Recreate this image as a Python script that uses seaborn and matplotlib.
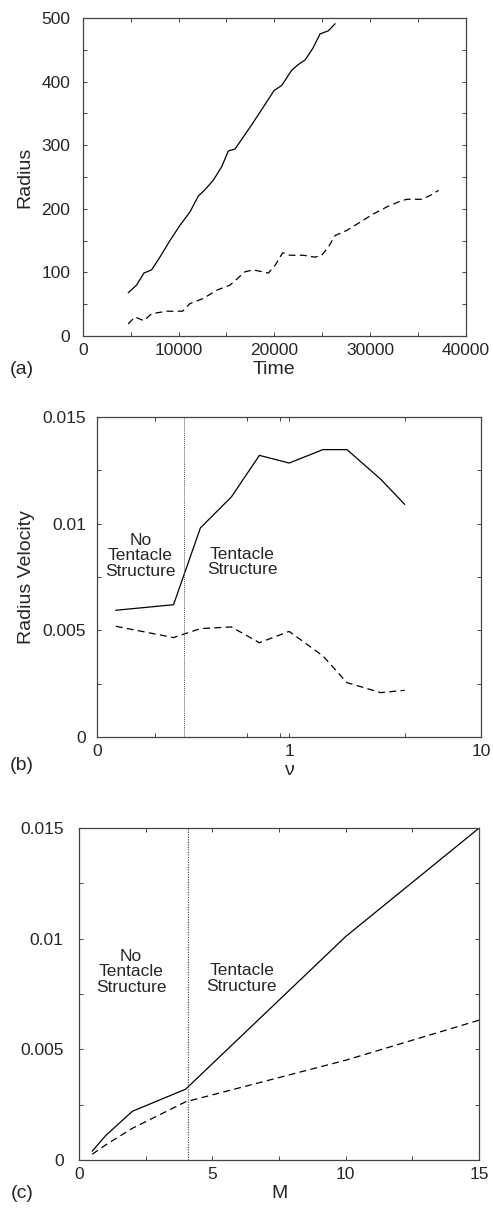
import seaborn as sns
import pandas as pd
import numpy as np
from matplotlib import pyplot as plt
from matplotlib.ticker import FixedLocator

# (a) radius vs time
time_solid = [4739, 5610, 6376, 7178, 8049, 9094, 10139, 11185, 12056, 12753, 13624,
              14495, 15192, 15889, 16760, 17805, 18850, 19965, 20767, 21812, 22509,
              23206, 24007, 24774, 25645, 26341]
radius_solid = [68, 80, 99, 104, 124, 150, 174, 195, 220, 230, 245,
                266, 291, 294, 313, 336, 360, 386, 394, 418, 427,
                434, 452, 475, 480, 491]
time_dash = [4739, 5436, 6376, 7178, 8746, 10418, 11185, 12578, 13972, 15366, 16934,
             17805, 19373, 20070, 20871, 21638, 23031, 24251, 24948, 25645, 26341,
             27561, 28955, 30348, 31742, 33136, 33833, 35401, 36272, 37143]
radius_dash = [19, 30, 24, 35, 39, 39, 51, 59, 72, 80, 101,
               104, 99, 111, 131, 127, 127, 124, 127, 140, 158,
               166, 179, 192, 203, 212, 215, 215, 221, 229]

# (b) radius velocity vs nu
nu = [0.125, 0.25, 0.345, 0.5, 0.7, 1.0, 1.5, 2.0, 3.0, 4.0]
vel_nu_solid = [0.00594, 0.0062, 0.0098, 0.01125, 0.0132, 0.01284, 0.01347, 0.01347, 0.01208, 0.0109]
vel_nu_dash = [0.00519, 0.00466, 0.00508, 0.00516, 0.00442, 0.00495, 0.0038, 0.00255, 0.00208, 0.00219]
nu_boundary = 0.2825

# (c) radius velocity vs M
M = [0.5, 1, 2, 4, 10, 15]
vel_m_solid = [0.0004, 0.0011, 0.0022, 0.0032, 0.0101, 0.015]
vel_m_dash = [0.00026, 0.00068, 0.00143, 0.00263, 0.00451, 0.00632]
m_boundary = 4.1

sns.set_theme(style="ticks")
plt.rcParams['font.family'] = ['Liberation Sans', 'DejaVu Sans']
plt.rcParams['xtick.direction'] = 'in'
plt.rcParams['ytick.direction'] = 'in'

fig = plt.figure(figsize=(4.93, 12.10), dpi=100)
ax_a = fig.add_axes([0.168, 0.7223, 0.777, 0.2628])
ax_b = fig.add_axes([0.197, 0.3909, 0.779, 0.2645])
ax_c = fig.add_axes([0.160, 0.0413, 0.812, 0.2744])

dash = (0, (5.5, 3.5))
lw = 0.9


def style(ax, ypad):
    for s in ax.spines.values():
        s.set_linewidth(0.9)
        s.set_color('#444444')
    ax.tick_params(which='both', top=True, right=True, labelsize=12.5,
                   width=0.7, color='#444444')
    ax.tick_params(axis='x', which='both', pad=5)
    ax.tick_params(axis='y', which='both', pad=ypad)
    ax.tick_params(which='major', length=3)
    ax.tick_params(which='minor', length=3)


# panel a
sns.lineplot(x=time_solid, y=radius_solid, ax=ax_a, color='black', lw=lw, sort=False)
sns.lineplot(x=time_dash, y=radius_dash, ax=ax_a, color='black', lw=lw, sort=False, linestyle=dash)
ax_a.set_xlim(0, 40000)
ax_a.set_ylim(0, 500)
ax_a.set_xticks([0, 10000, 20000, 30000, 40000])
ax_a.set_yticks([0, 100, 200, 300, 400, 500])
ax_a.xaxis.set_minor_locator(FixedLocator([5000, 15000, 25000, 35000]))
ax_a.yaxis.set_minor_locator(FixedLocator([50, 150, 250, 350, 450]))
ax_a.set_xlabel('Time', fontsize=14, labelpad=2)
ax_a.set_ylabel('Radius', fontsize=14, labelpad=6)
style(ax_a, 9)

# panel b
ax_b.set_xscale('log')
sns.lineplot(x=nu, y=vel_nu_solid, ax=ax_b, color='black', lw=lw, sort=False)
sns.lineplot(x=nu, y=vel_nu_dash, ax=ax_b, color='black', lw=lw, sort=False, linestyle=dash)
ax_b.axvline(nu_boundary, color='#555555', lw=0.7, linestyle=(0, (1, 1)))
ax_b.set_xlim(0.1, 10)
ax_b.set_ylim(0, 0.015)
ax_b.xaxis.set_major_locator(FixedLocator([0.1, 1, 10]))
ax_b.set_xticklabels(['0', '1', '10'])
ax_b.xaxis.set_minor_locator(FixedLocator([0.2, 0.6, 0.9, 4]))
ax_b.xaxis.set_minor_formatter(plt.NullFormatter())
ax_b.set_yticks([0, 0.005, 0.01, 0.015])
ax_b.set_yticklabels(['0', '0.005', '0.01', '0.015'])
ax_b.yaxis.set_minor_locator(FixedLocator([0.0025, 0.0075, 0.0125]))
ax_b.set_xlabel('ν', fontsize=14, labelpad=2)
ax_b.set_ylabel('Radius Velocity', fontsize=14, labelpad=5)
ax_b.text(0.168, 0.0085, 'No\nTentacle\nStructure', ha='center', va='center',
          fontsize=12.5, linespacing=1.05)
ax_b.text(0.568, 0.0082, 'Tentacle\nStructure', ha='center', va='center',
          fontsize=12.5, linespacing=1.05)
style(ax_b, 8)

# panel c
sns.lineplot(x=M, y=vel_m_solid, ax=ax_c, color='black', lw=lw, sort=False)
sns.lineplot(x=M, y=vel_m_dash, ax=ax_c, color='black', lw=lw, sort=False, linestyle=dash)
ax_c.axvline(m_boundary, color='#555555', lw=0.9, linestyle=(0, (1, 1)))
ax_c.set_xlim(0, 15)
ax_c.set_ylim(0, 0.015)
ax_c.set_xticks([0, 5, 10, 15])
ax_c.xaxis.set_minor_locator(FixedLocator([2.5, 7.5, 12.5]))
ax_c.set_yticks([0, 0.005, 0.01, 0.015])
ax_c.set_yticklabels(['0', '0.005', '0.01', '0.015'])
ax_c.yaxis.set_minor_locator(FixedLocator([0.0025, 0.0075, 0.0125]))
ax_c.set_xlabel('M', fontsize=14, labelpad=2)
ax_c.text(1.96, 0.0085, 'No\nTentacle\nStructure', ha='center', va='center',
          fontsize=12.5, linespacing=1.05)
ax_c.text(6.1, 0.0082, 'Tentacle\nStructure', ha='center', va='center',
          fontsize=12.5, linespacing=1.05)
style(ax_c, 11)

fig.text(22 / 493, 1 - 370 / 1210, '(a)', fontsize=14, ha='center', va='center')
fig.text(22 / 493, 1 - 766 / 1210, '(b)', fontsize=14, ha='center', va='center')
fig.text(22 / 493, 1 - 1194 / 1210, '(c)', fontsize=14, ha='center', va='center')

fig.savefig('out.png', dpi=100)
